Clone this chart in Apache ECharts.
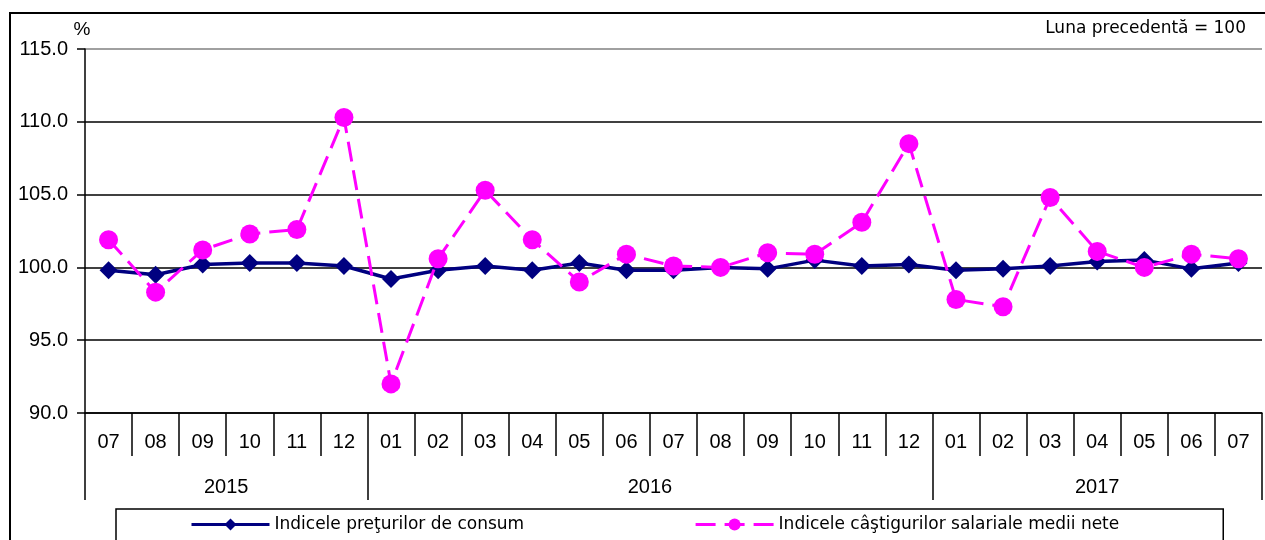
<!DOCTYPE html>
<html>
<head>
<meta charset="utf-8">
<script src="https://cdn.jsdelivr.net/npm/echarts@6/dist/echarts.min.js"></script>
<style>html,body{margin:0;padding:0;background:#fff;}#c{width:1265px;height:540px;}</style>
</head>
<body>
<div id="c"></div>
<script>
const months = ['07','08','09','10','11','12','01','02','03','04','05','06','07','08','09','10','11','12','01','02','03','04','05','06','07'];
const years = ['2015','2016','2017'];
const yearSpans = [6, 12, 7];
const cpi = [99.8,99.5,100.2,100.3,100.3,100.1,99.2,99.8,100.1,99.8,100.3,99.8,99.8,100.0,99.9,100.5,100.1,100.2,99.8,99.9,100.1,100.4,100.5,99.9,100.3];
const wages = [101.9,98.3,101.2,102.3,102.6,110.3,92.0,100.6,105.3,101.9,99.0,100.9,100.1,100.0,101.0,100.9,103.1,108.5,97.8,97.3,104.8,101.1,100.0,100.9,100.6];
const yTicks = {min: 90, max: 115, interval: 5};
const nameCpi = 'Indicele preţurilor de consum';
const nameWages = 'Indicele câştigurilor salariale medii nete';

// half-month positions for the year axis (boundaries & centres)
const halfPos = [];
for (let i = 0; i <= months.length * 2; i++) halfPos.push(String(i));
const yearBounds = [];
const yearCentres = {};
let acc = 0;
yearSpans.forEach((s, k) => {
  yearBounds.push(acc * 2);
  yearCentres[acc * 2 + s] = years[k];
  acc += s;
});
yearBounds.push(acc * 2);

const FONT = 'DejaVu Sans';
const NUMFONT = 'Liberation Sans';
const chart = echarts.init(document.getElementById('c'));
chart.setOption({
  animation: false,
  backgroundColor: '#fff',
  textStyle: {fontFamily: FONT},
  title: {
    text: 'Luna precedentă = 100',
    right: 19, top: 20, padding: 0,
    textStyle: {fontFamily: FONT, fontSize: 17, fontWeight: 'normal', color: '#000'}
  },
  graphic: [{
    type: 'rect', silent: true, z: 100,
    shape: {x: 10, y: 13, width: 1300, height: 600},
    style: {fill: 'none', stroke: '#000', lineWidth: 2}
  }],
  grid: {left: 85, right: 0, top: 49, bottom: 127},
  legend: {
    left: 116, top: 509,
    padding: [7, 104, 20, 74],
    itemGap: 170,
    itemWidth: 78, itemHeight: 15,
    borderColor: '#000', borderWidth: 1.5,
    textStyle: {fontFamily: FONT, fontSize: 17, color: '#000'},
    data: [
      {name: nameCpi, lineStyle: {width: 3}},
      {name: nameWages, lineStyle: {width: 3}}
    ]
  },
  xAxis: [{
    type: 'category',
    data: months,
    boundaryGap: true,
    axisLine: {lineStyle: {color: '#000', width: 1.5}},
    axisTick: {show: true, interval: 0, length: 43, lineStyle: {color: '#000', width: 1.5}},
    axisLabel: {interval: 0, margin: 19, fontFamily: NUMFONT, fontSize: 20, color: '#000'},
    splitLine: {show: false}
  }, {
    type: 'category',
    data: halfPos,
    boundaryGap: false,
    position: 'bottom',
    axisLine: {show: false},
    axisTick: {show: true, length: 87, interval: (i) => yearBounds.includes(i), lineStyle: {color: '#000', width: 1.5}},
    axisLabel: {interval: 0, margin: 64, fontFamily: NUMFONT, fontSize: 20, color: '#000',
      formatter: (v, i) => yearCentres[i] || ''},
    splitLine: {show: false}
  }],
  yAxis: {
    type: 'value',
    min: yTicks.min, max: yTicks.max, interval: yTicks.interval,
    name: '%', nameLocation: 'end', nameGap: 3,
    nameTextStyle: {fontFamily: NUMFONT, fontSize: 19, color: '#000', align: 'center', padding: [0, 6, 0, 0]},
    axisLine: {show: true, lineStyle: {color: '#000', width: 1.5}},
    axisTick: {show: true, length: 8, lineStyle: {color: '#000', width: 1.5}},
    axisLabel: {margin: 17, fontFamily: NUMFONT, fontSize: 20, color: '#000', formatter: (v) => v.toFixed(1)},
    splitLine: {show: true, lineStyle: {color: ['#000','#000','#000','#000','#000','#808080'], width: 1.5}}
  },
  series: [{
    name: nameCpi,
    type: 'line',
    xAxisIndex: 0,
    data: cpi,
    symbol: 'diamond', symbolSize: 18,
    lineStyle: {color: '#000080', width: 3.5},
    itemStyle: {color: '#000080'},
    z: 3
  }, {
    name: nameWages,
    type: 'line',
    xAxisIndex: 0,
    data: wages,
    symbol: 'circle', symbolSize: 19,
    lineStyle: {color: '#FF00FF', width: 3, type: [20, 9]},
    itemStyle: {color: '#FF00FF'},
    z: 4
  }]
});
</script>
</body>
</html>
